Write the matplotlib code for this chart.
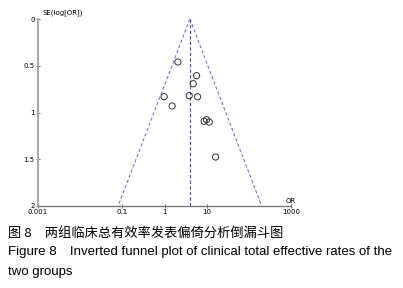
import numpy as np
import matplotlib as mpl
mpl.use('Agg')
import matplotlib.pyplot as plt

# study estimates
odds_ratio = [2.08, 5.76, 4.79, 0.98, 3.85, 6.09, 1.52, 8.73, 9.95, 11.5, 16.3]
se_log_or = [0.46, 0.606, 0.692, 0.831, 0.820, 0.831, 0.930, 1.094, 1.077, 1.102, 1.476]
pooled_or = 4.0
se_max = 2.0

x_ticks = [0.001, 0.1, 1, 10, 1000]
x_tick_labels = ['0.001', '0.1', '1', '10', '1000']
y_ticks = [0, 0.5, 1, 1.5, 2]
y_tick_labels = ['0', '0.5', '1', '1.5', '2']

caption_cn = '图 8\u2003两组临床总有效率发表偏倚分析倒漏斗图'
caption_en1 = 'Figure 8\u2003Inverted funnel plot of clinical total effective rates of the'
caption_en2 = 'two groups'

fig = plt.figure(figsize=(4.03, 2.88), dpi=100)
ax = fig.add_axes([38 / 403, 1 - 206 / 288, (291 - 38) / 403, (206 - 19) / 288])

ax.set_xscale('log')
ax.set_xlim(0.001, 1000)
ax.set_ylim(se_max, 0)

# funnel: pseudo 95% limits around pooled estimate
se = np.array([0, se_max])
lc = np.log(pooled_or)
ax.plot(np.exp(lc - 1.96 * se), se, ls=(0, (3, 2)), color='#7777cc', lw=0.8)
ax.plot(np.exp(lc + 1.96 * se), se, ls=(0, (3, 2)), color='#7777cc', lw=0.8)
ax.plot([pooled_or, pooled_or], [0, se_max], ls=(0, (3, 2)), color='#4444aa', lw=0.8)

ax.scatter(odds_ratio, se_log_or, s=20, facecolors='none', edgecolors='#333333', linewidths=0.7, zorder=3)

for s in ['top', 'right']:
    ax.spines[s].set_visible(False)
ax.spines['left'].set_color('#aaaaaa')
ax.spines['left'].set_linewidth(1.5)
ax.spines['bottom'].set_color('#777777')
ax.spines['bottom'].set_linewidth(1.0)

ax.set_xticks(x_ticks)
ax.set_xticklabels(x_tick_labels)
ax.minorticks_off()
ax.set_yticks(y_ticks)
ax.set_yticklabels(y_tick_labels)
ax.tick_params(axis='both', labelsize=5, length=3, width=0.6, color='#555555', pad=1, direction='inout')

ax.text(0.0013, -0.03, 'SE(log[OR])', fontsize=5, va='bottom', ha='left')
ax.text(1000, 1.98, 'OR', fontsize=5, va='bottom', ha='center')

fig.text(8 / 403, 1 - 233 / 288, caption_cn, fontsize=9.5, va='center', ha='left',
         family=['Noto Sans CJK SC', 'DejaVu Sans'])
fig.text(8 / 403, 1 - 252 / 288, caption_en1, fontsize=9.5, va='center', ha='left',
         family=['Liberation Sans', 'Noto Sans CJK SC'])
fig.text(8 / 403, 1 - 272 / 288, caption_en2, fontsize=9.5, va='center', ha='left',
         family=['Liberation Sans'])

fig.savefig('out.png', dpi=100)
